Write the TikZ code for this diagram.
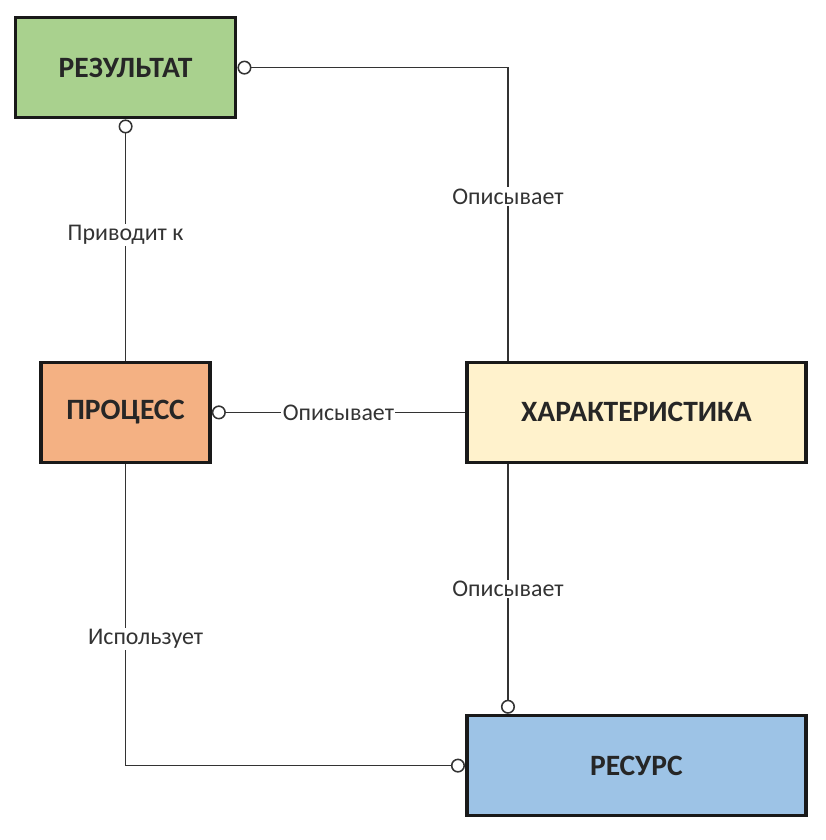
\documentclass[tikz,border=0pt]{standalone}
\usepackage{fontspec}
\setmainfont{Carlito}
\usetikzlibrary{arrows.meta,positioning}
\definecolor{resgreen}{HTML}{A9D18E}
\definecolor{procorange}{HTML}{F4B183}
\definecolor{charyellow}{HTML}{FFF2CC}
\definecolor{resblue}{HTML}{9DC3E6}
\definecolor{labelgray}{HTML}{333333}

\begin{document}
\begin{tikzpicture}[
    entity/.style={draw=black!90, line width=2.6pt, minimum height=2.5cm,
                   font=\fontsize{21}{24}\selectfont\bfseries, text=black!85, align=center},
    conn/.style={line width=1.1pt, draw=black!80},
    lbl/.style={fill=white, inner sep=1pt, font=\fontsize{17}{20}\selectfont, text=labelgray},
    ring/.tip={Circle[open, length=10pt, width=10pt, line width=1.1pt, fill=white]}
]
    \useasboundingbox (0,0) rectangle (20.65,-21);

    % 四个实体
    \node[entity, fill=resgreen, minimum width=5.5cm] (result) at (3.14,-1.69) {РЕЗУЛЬТАТ};
    \node[entity, fill=procorange, minimum width=4.22cm] (process) at (3.14,-10.31) {ПРОЦЕСС};
    \node[entity, fill=charyellow, minimum width=8.48cm] (feature) at (15.91,-10.31) {ХАРАКТЕРИСТИКА};
    \node[entity, fill=resblue, minimum width=8.48cm] (resource) at (15.91,-19.14) {РЕСУРС};

    % 连线
    \draw[conn, ring-] (result.east) -| node[lbl, pos=0.72] {Описывает}
        ([xshift=1.075cm]feature.north west);
    \draw[conn, ring-] (result.south) -- node[lbl, pos=0.48] {Приводит к} (process.north);
    \draw[conn, ring-] (process.east) -- node[lbl] {Описывает} (feature.west);
    \draw[conn, -ring] ([xshift=1.075cm]feature.south west) -- node[lbl] {Описывает}
        ([xshift=1.075cm]resource.north west);
    \draw[conn, -ring] (process.south) |- node[lbl, pos=0.29, xshift=0.5cm] {Использует}
        (resource.west);
\end{tikzpicture}
\end{document}
